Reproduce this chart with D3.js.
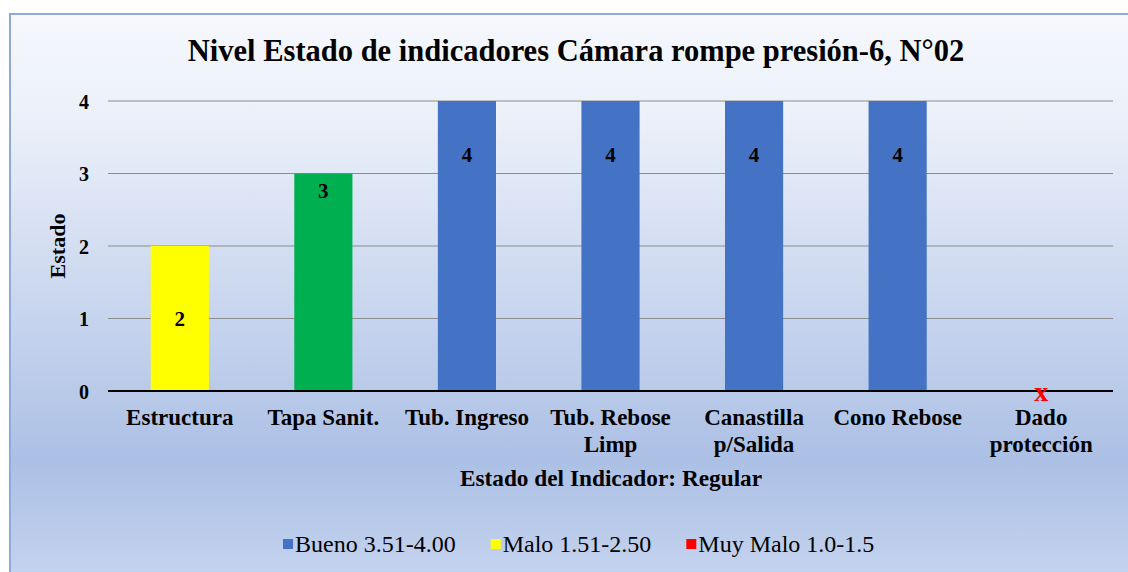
<!DOCTYPE html>
<html><head><meta charset="utf-8">
<script src="https://cdn.jsdelivr.net/npm/d3@7"></script>
<style>html,body{margin:0;padding:0;background:#fff;}svg{display:block;}</style>
</head><body>
<svg id="chart" width="1128" height="572"></svg>
<script>
const categories = [["Estructura"],["Tapa Sanit."],["Tub. Ingreso"],["Tub. Rebose","Limp"],["Canastilla","p/Salida"],["Cono Rebose"],["Dado","protección"]];
const values = [2, 3, 4, 4, 4, 4, 0];
const barColors = ["#ffff00", "#00b050", "#4472c4", "#4472c4", "#4472c4", "#4472c4", "#ff0000"];
const labelAt = [1, 2.76, 3.26, 3.26, 3.26, 3.26, null];
const yTicks = [0, 1, 2, 3, 4];
const legendItems = [["Bueno 3.51-4.00", "#4472c4"], ["Malo 1.51-2.50", "#ffff00"], ["Muy Malo 1.0-1.5", "#ff0000"]];
const title = "Nivel Estado de indicadores Cámara  rompe presión-6, N°02";
const yTitle = "Estado";
const xTitle = "Estado del Indicador: Regular";

const FONT = '"Liberation Serif", "Times New Roman", serif';
const svg = d3.select("#chart");
const defs = svg.append("defs");
const g = defs.append("linearGradient").attr("id","bg").attr("x1",0).attr("y1",0).attr("x2",0).attr("y2",1);
g.append("stop").attr("offset","0%").attr("stop-color","#f6f8fd");
g.append("stop").attr("offset","20%").attr("stop-color","#eaeff9");
g.append("stop").attr("offset","80%").attr("stop-color","#acc0e5");
g.append("stop").attr("offset","100%").attr("stop-color","#c3d2ee");
svg.append("rect").attr("x",9).attr("y",13).attr("width",1119).attr("height",559).attr("fill","#8eaadc");
svg.append("rect").attr("x",11).attr("y",15).attr("width",1117).attr("height",557).attr("fill","url(#bg)");

const x = d3.scaleBand().domain(d3.range(categories.length)).range([108, 1113]).paddingInner(0.595).paddingOuter(0.2975);
const y = d3.scaleLinear().domain([0, 4]).range([391, 101]);

svg.append("g").selectAll("line").data(yTicks.filter(d => d > 0)).join("line")
  .attr("x1",108).attr("x2",1113).attr("y1",d=>y(d)).attr("y2",d=>y(d))
  .attr("stroke","#8c8c8c").attr("stroke-width",1);

svg.append("g").selectAll("rect").data(values).join("rect")
  .attr("x",(d,i)=>x(i)).attr("width",x.bandwidth())
  .attr("y",d=>y(d)).attr("height",d=>y(0)-y(d))
  .attr("fill",(d,i)=>barColors[i]);

svg.append("line").attr("x1",108).attr("x2",1113).attr("y1",y(0)).attr("y2",y(0)).attr("stroke","#000").attr("stroke-width",2);

const yAxis = d3.axisLeft(y).tickValues(yTicks).tickSize(0).tickPadding(0).tickFormat(d3.format("d"));
const ya = svg.append("g").attr("transform","translate(89,0)").call(yAxis);
ya.select(".domain").remove();
ya.attr("font-family",null).attr("font-size",null);
ya.selectAll("text").style("font-family",FONT).attr("font-weight","bold").attr("font-size",20).attr("fill","#000").attr("dy","0.35em");

svg.append("g").selectAll("text").data(values.map((v,i)=>({v,i})).filter(d=>labelAt[d.i]!==null)).join("text")
  .attr("x",d=>x(d.i)+x.bandwidth()/2).attr("y",d=>y(labelAt[d.i])).attr("dy","0.35em")
  .attr("text-anchor","middle").style("font-family",FONT).attr("font-weight","bold").attr("font-size",21).attr("fill","#000")
  .text(d=>d.v);

svg.append("g").selectAll("text").data(values.map((v,i)=>({v,i})).filter(d=>d.v===0)).join("text")
  .attr("x",d=>x(d.i)+x.bandwidth()/2).attr("y",d=>y(d.v)).attr("dy",10)
  .attr("text-anchor","middle").style("font-family",FONT).attr("font-weight","bold").attr("font-size",28).attr("fill","#ff0000")
  .text("x");

const xl = svg.append("g").selectAll("text").data(categories).join("text")
  .attr("x",(d,i)=>x(i)+x.bandwidth()/2).attr("y",425)
  .attr("text-anchor","middle").style("font-family",FONT).attr("font-weight","bold").attr("font-size",23).attr("fill","#000");
xl.selectAll("tspan").data(d=>d).join("tspan").attr("x",function(){return this.parentNode.getAttribute("x");})
  .attr("dy",(d,i)=>i===0?0:27).text(d=>d);

svg.append("text").attr("x",576).attr("y",61).attr("text-anchor","middle").style("font-family",FONT).attr("font-weight","bold").attr("font-size",30.5).text(title);
svg.append("text").attr("transform","translate(65,246) rotate(-90)").attr("text-anchor","middle").style("font-family",FONT).attr("font-weight","bold").attr("font-size",22).text(yTitle);
svg.append("text").attr("x",611).attr("y",486).attr("text-anchor","middle").style("font-family",FONT).attr("font-weight","bold").attr("font-size",23.3).text(xTitle);

const lg = svg.append("g");
let lx = 283;
legendItems.forEach(([t,c]) => {
  lg.append("rect").attr("x",lx).attr("y",539).attr("width",10).attr("height",10).attr("fill",c);
  const tx = lg.append("text").attr("x",lx+12).attr("y",552).style("font-family",FONT).attr("font-size",24).attr("fill","#000").text(t);
  lx += 12 + tx.node().getComputedTextLength() + 35;
});
</script>
</body></html>
